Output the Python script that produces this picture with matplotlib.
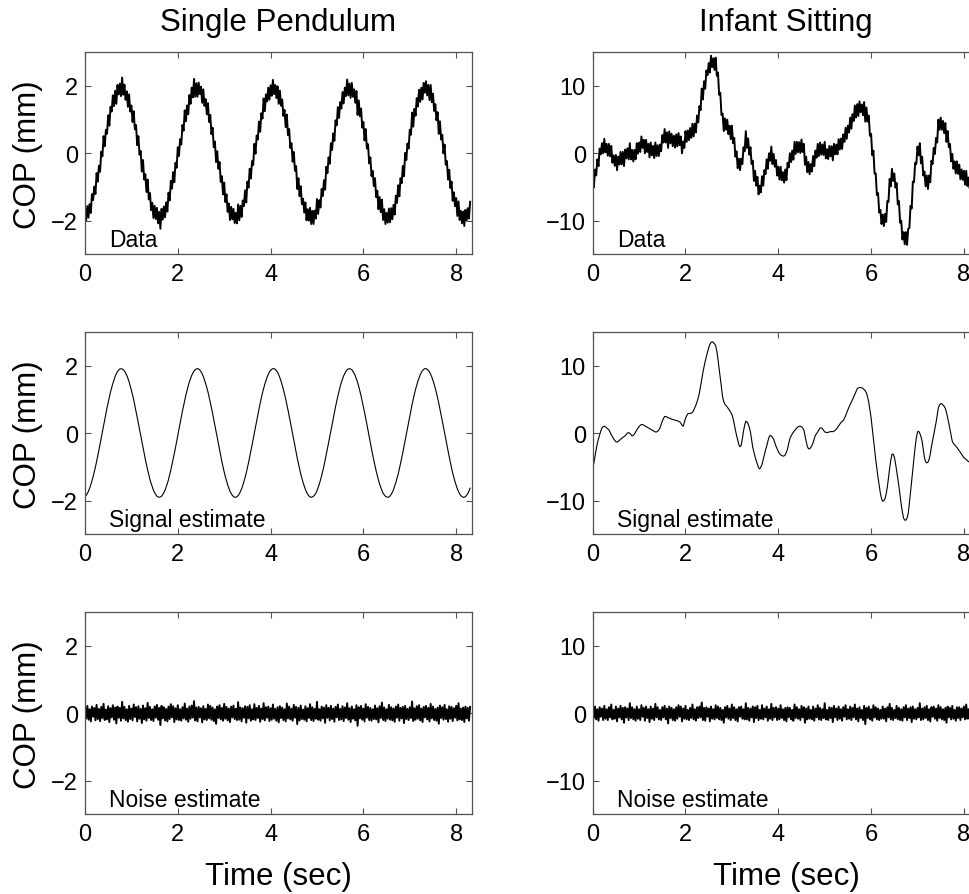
import numpy as np
import matplotlib
matplotlib.use("Agg")
import matplotlib.pyplot as plt

plt.rcParams['font.family'] = ['Liberation Sans', 'DejaVu Sans']

# sample spacing of the traces (sec)
dt = 0.025

# single pendulum: signal estimate (mm)
pendulum_signal = [
    -1.88, -1.84, -1.79, -1.72, -1.63, -1.53, -1.41, -1.29, -1.15, -1.00,
    -0.84, -0.67, -0.50, -0.32, -0.14, 0.05, 0.23, 0.41, 0.59, 0.76,
    0.92, 1.08, 1.23, 1.36, 1.48, 1.59, 1.69, 1.77, 1.83, 1.88,
    1.91, 1.92, 1.91, 1.89, 1.85, 1.79, 1.72, 1.63, 1.53, 1.41,
    1.28, 1.14, 0.99, 0.82, 0.66, 0.48, 0.30, 0.12, -0.06, -0.25,
    -0.43, -0.60, -0.77, -0.93, -1.09, -1.23, -1.37, -1.49, -1.59, -1.69,
    -1.76, -1.82, -1.87, -1.89, -1.90, -1.89, -1.87, -1.82, -1.76, -1.69,
    -1.59, -1.49, -1.37, -1.23, -1.09, -0.93, -0.77, -0.60, -0.43, -0.25,
    -0.06, 0.12, 0.30, 0.48, 0.66, 0.82, 0.99, 1.14, 1.28, 1.41,
    1.53, 1.63, 1.72, 1.79, 1.85, 1.89, 1.91, 1.92, 1.91, 1.88,
    1.83, 1.77, 1.69, 1.59, 1.48, 1.36, 1.23, 1.08, 0.92, 0.76,
    0.59, 0.41, 0.23, 0.05, -0.14, -0.32, -0.50, -0.67, -0.84, -1.00,
    -1.15, -1.29, -1.41, -1.53, -1.63, -1.72, -1.79, -1.84, -1.88, -1.90,
    -1.90, -1.88, -1.85, -1.80, -1.73, -1.65, -1.55, -1.44, -1.31, -1.18,
    -1.03, -0.87, -0.70, -0.53, -0.35, -0.17, 0.01, 0.19, 0.37, 0.55,
    0.72, 0.89, 1.05, 1.20, 1.33, 1.46, 1.57, 1.67, 1.75, 1.82,
    1.87, 1.90, 1.92, 1.92, 1.90, 1.86, 1.81, 1.74, 1.65, 1.55,
    1.43, 1.31, 1.17, 1.02, 0.86, 0.69, 0.52, 0.34, 0.16, -0.03,
    -0.21, -0.39, -0.57, -0.74, -0.90, -1.06, -1.21, -1.34, -1.46, -1.57,
    -1.67, -1.75, -1.81, -1.86, -1.89, -1.90, -1.89, -1.87, -1.83, -1.78,
    -1.70, -1.61, -1.51, -1.39, -1.26, -1.12, -0.97, -0.80, -0.64, -0.46,
    -0.28, -0.10, 0.08, 0.27, 0.45, 0.62, 0.79, 0.95, 1.11, 1.25,
    1.39, 1.51, 1.61, 1.71, 1.78, 1.84, 1.89, 1.91, 1.92, 1.91,
    1.89, 1.84, 1.78, 1.71, 1.61, 1.51, 1.39, 1.25, 1.11, 0.95,
    0.79, 0.62, 0.45, 0.27, 0.08, -0.10, -0.28, -0.46, -0.64, -0.80,
    -0.97, -1.12, -1.26, -1.39, -1.51, -1.61, -1.70, -1.78, -1.83, -1.87,
    -1.89, -1.90, -1.89, -1.86, -1.81, -1.75, -1.67, -1.57, -1.46, -1.34,
    -1.21, -1.06, -0.90, -0.74, -0.57, -0.39, -0.21, -0.03, 0.16, 0.34,
    0.52, 0.69, 0.86, 1.02, 1.17, 1.31, 1.43, 1.55, 1.65, 1.74,
    1.81, 1.86, 1.90, 1.92, 1.92, 1.90, 1.87, 1.82, 1.75, 1.67,
    1.57, 1.46, 1.33, 1.20, 1.05, 0.89, 0.72, 0.55, 0.37, 0.19,
    0.01, -0.17, -0.35, -0.53, -0.70, -0.87, -1.03, -1.18, -1.31, -1.44,
    -1.55, -1.65, -1.73, -1.80, -1.85, -1.88, -1.90, -1.90, -1.88, -1.84,
    -1.79, -1.72, -1.63,
]

# single pendulum: noise estimate (mm)
pendulum_noise = [
    0.18, -0.15, 0.22, -0.19, 0.12, -0.24, 0.20, -0.10, 0.16, -0.21,
    0.25, -0.17, 0.13, -0.23, 0.19, -0.14, 0.28, -0.20, 0.11, -0.18,
    0.21, -0.26, 0.15, -0.12, 0.24, -0.19, 0.17, -0.30, 0.20, -0.13,
    0.16, -0.22, 0.34, -0.15, 0.19, -0.20, 0.12, -0.25, 0.22, -0.17,
    0.14, -0.21, 0.26, -0.11, 0.18, -0.24, 0.21, -0.16, 0.13, -0.29,
    0.23, -0.18, 0.15, -0.22, 0.31, -0.14, 0.19, -0.20, 0.12, -0.23,
    0.20, -0.13, 0.25, -0.19, 0.16, -0.35, 0.22, -0.15, 0.18, -0.21,
    0.13, -0.24, 0.20, -0.17, 0.27, -0.12, 0.21, -0.26, 0.15, -0.18,
    0.24, -0.20, 0.12, -0.22, 0.18, -0.15, 0.29, -0.19, 0.14, -0.25,
    0.20, -0.16, 0.23, -0.13, 0.36, -0.21, 0.17, -0.24, 0.19, -0.12,
    0.15, -0.27, 0.21, -0.18, 0.13, -0.20, 0.26, -0.15, 0.22, -0.19,
    0.17, -0.23, 0.12, -0.31, 0.20, -0.14, 0.24, -0.18, 0.16, -0.22,
    0.28, -0.16, 0.19, -0.21, 0.14, -0.26, 0.20, -0.12, 0.23, -0.17,
    0.13, -0.20, 0.33, -0.19, 0.17, -0.24, 0.15, -0.13, 0.21, -0.28,
    0.19, -0.15, 0.24, -0.22, 0.12, -0.18, 0.27, -0.20, 0.16, -0.14,
    0.22, -0.25, 0.14, -0.17, 0.30, -0.21, 0.18, -0.13, 0.20, -0.23,
    0.15, -0.19, 0.26, -0.16, 0.13, -0.22, 0.18, -0.27, 0.21, -0.14,
    0.17, -0.20, 0.12, -0.24, 0.29, -0.15, 0.20, -0.18, 0.14, -0.22,
    0.25, -0.13, 0.19, -0.32, 0.16, -0.21, 0.23, -0.17, 0.11, -0.19,
    0.21, -0.24, 0.15, -0.14, 0.27, -0.20, 0.18, -0.23, 0.13, -0.16,
    0.34, -0.19, 0.12, -0.22, 0.20, -0.15, 0.17, -0.28, 0.24, -0.13,
    0.16, -0.21, 0.22, -0.17, 0.14, -0.25, 0.19, -0.12, 0.26, -0.20,
    0.13, -0.18, 0.21, -0.23, 0.17, -0.14, 0.30, -0.19, 0.15, -0.26,
    0.20, -0.16, 0.12, -0.21, 0.24, -0.37, 0.18, -0.15, 0.22, -0.19,
    0.14, -0.24, 0.27, -0.13, 0.19, -0.20, 0.16, -0.22, 0.12, -0.17,
    0.23, -0.18, 0.15, -0.27, 0.21, -0.14, 0.32, -0.20, 0.17, -0.23,
    0.12, -0.16, 0.25, -0.19, 0.18, -0.21, 0.14, -0.25, 0.20, -0.13,
    0.26, -0.22, 0.16, -0.15, 0.19, -0.29, 0.22, -0.17, 0.13, -0.20,
    0.18, -0.14, 0.35, -0.23, 0.15, -0.19, 0.21, -0.16, 0.24, -0.21,
    0.14, -0.26, 0.19, -0.12, 0.22, -0.18, 0.16, -0.24, 0.28, -0.15,
    0.20, -0.20, 0.13, -0.22, 0.17, -0.31, 0.23, -0.14, 0.18, -0.19,
    0.25, -0.17, 0.12, -0.25, 0.21, -0.16, 0.19, -0.23, 0.15, -0.13,
    0.22, -0.21, 0.30, -0.18, 0.14, -0.20, 0.17, -0.26, 0.20, -0.15,
    0.16, -0.22, 0.19,
]

# infant sitting: signal estimate (mm)
infant_signal = [
    -5.4, -4.4, -3.4, -2.4, -1.5, -0.8, -0.2, 0.35, 0.8, 1.0,
    1.05, 0.95, 0.8, 0.65, 0.5, 0.15, -0.2, -0.5, -0.8, -1.05,
    -1.25, -1.3, -1.2, -1.05, -0.9, -0.75, -0.6, -0.5, -0.35, -0.15,
    0.05, 0.1, 0.0, -0.2, -0.4, -0.3, -0.1, 0.2, 0.5, 0.75,
    1.0, 1.2, 1.3, 1.3, 1.2, 1.1, 1.0, 0.9, 0.8, 0.7,
    0.6, 0.5, 0.4, 0.3, 0.2, 0.2, 0.3, 0.5, 0.8, 1.3,
    1.8, 2.2, 2.5, 2.5, 2.4, 2.3, 2.25, 2.2, 2.1, 2.05,
    2.0, 1.95, 1.9, 1.85, 1.8, 1.7, 1.5, 1.2, 1.05, 1.6,
    2.2, 2.6, 2.9, 2.95, 2.95, 3.0, 3.1, 3.4, 3.8, 4.2,
    4.7, 5.3, 6.0, 7.0, 8.0, 9.0, 9.9, 10.7, 11.4, 12.1,
    12.7, 13.2, 13.5, 13.6, 13.5, 13.3, 13.0, 12.2, 11.0, 9.6,
    8.2, 6.7, 5.4, 4.7, 4.3, 4.1, 3.9, 3.65, 3.4, 3.1,
    2.8, 2.2, 1.4, 0.5, -0.3, -1.0, -1.7, -2.0, -1.8, -0.8,
    0.3, 1.2, 1.8, 1.7, 1.4, 0.9, 0.2, -1.0, -2.1, -2.8,
    -3.5, -4.1, -4.6, -5.1, -5.3, -5.0, -4.6, -3.9, -3.2, -2.5,
    -1.9, -1.2, -0.6, -0.3, -0.4, -0.6, -0.9, -1.4, -1.9, -2.3,
    -2.7, -3.0, -3.2, -3.3, -3.4, -3.35, -3.2, -2.8, -2.3, -1.5,
    -0.8, -0.4, -0.1, 0.15, 0.4, 0.6, 0.8, 0.95, 1.05, 1.05,
    0.95, 0.8, 0.5, -0.3, -1.2, -1.9, -2.3, -2.3, -2.1, -1.8,
    -1.4, -0.8, -0.3, -0.05, 0.2, 0.5, 0.8, 0.8, 0.7, 0.45,
    0.2, 0.15, 0.1, 0.15, 0.2, 0.25, 0.25, 0.25, 0.3, 0.45,
    0.6, 0.85, 1.1, 1.35, 1.6, 1.75, 1.9, 2.2, 2.6, 3.05,
    3.5, 3.9, 4.3, 4.65, 5.0, 5.4, 5.8, 6.2, 6.6, 6.75,
    6.8, 6.8, 6.75, 6.65, 6.5, 6.3, 6.0, 5.4, 4.6, 3.5,
    2.3, 0.8, -0.8, -2.4, -3.9, -5.3, -6.6, -7.8, -8.9, -9.7,
    -10.1, -10.0, -9.7, -9.0, -8.0, -6.6, -5.2, -4.0, -3.1, -3.1,
    -3.5, -4.4, -5.5, -6.7, -7.9, -9.3, -10.6, -11.7, -12.6, -12.9,
    -12.9, -12.6, -11.9, -10.4, -8.7, -6.9, -5.2, -3.5, -2.0, -0.7,
    0.2, 0.3, 0.0, -0.5, -1.2, -2.4, -3.6, -4.2, -4.4, -4.3,
    -3.9, -3.1, -2.0, -1.1, -0.2, 0.7, 1.6, 2.7, 3.8, 4.2,
    4.4, 4.4, 4.2, 4.0, 3.7, 3.1, 2.3, 1.5, 0.6, -0.3,
    -1.2, -1.5, -1.7, -1.9, -2.1, -2.35, -2.6, -2.85, -3.1, -3.35,
    -3.6, -3.75, -3.9, -4.05, -4.2, -4.3, -4.35, -4.4, -4.4, -4.4,
    -4.4, -4.4, -4.4,
]

# infant sitting: noise estimate (mm)
infant_noise = [
    0.8, -0.7, 1.0, -0.9, 0.6, -1.1, 0.9, -0.5, 0.7, -1.0,
    1.1, -0.8, 0.6, -1.0, 0.9, -0.6, 1.3, -0.9, 0.5, -0.8,
    1.0, -1.2, 0.7, -0.6, 1.1, -0.9, 0.8, -1.4, 0.9, -0.6,
    0.7, -1.0, 1.5, -0.7, 0.9, -0.9, 0.6, -1.1, 1.0, -0.8,
    0.6, -1.0, 1.2, -0.5, 0.8, -1.1, 1.0, -0.7, 0.6, -1.3,
    1.0, -0.8, 0.7, -1.0, 1.4, -0.6, 0.9, -0.9, 0.5, -1.0,
    0.9, -0.6, 1.1, -0.9, 0.7, -1.5, 1.0, -0.7, 0.8, -1.0,
    0.6, -1.1, 0.9, -0.8, 1.2, -0.5, 1.0, -1.2, 0.7, -0.8,
    1.1, -0.9, 0.5, -1.0, 0.8, -0.7, 1.3, -0.9, 0.6, -1.1,
    0.9, -0.7, 1.0, -0.6, 1.6, -1.0, 0.8, -1.1, 0.9, -0.5,
    0.7, -1.2, 1.0, -0.8, 0.6, -0.9, 1.2, -0.7, 1.0, -0.9,
    0.8, -1.0, 0.5, -1.4, 0.9, -0.6, 1.1, -0.8, 0.7, -1.0,
    1.3, -0.7, 0.9, -1.0, 0.6, -1.2, 0.9, -0.5, 1.0, -0.8,
    0.6, -0.9, 1.5, -0.9, 0.8, -1.1, 0.7, -0.6, 1.0, -1.3,
    0.9, -0.7, 1.1, -1.0, 0.5, -0.8, 1.2, -0.9, 0.7, -0.6,
    1.0, -1.1, 0.6, -0.8, 1.4, -1.0, 0.8, -0.6, 0.9, -1.0,
    0.7, -0.9, 1.2, -0.7, 0.6, -1.0, 0.8, -1.2, 0.9, -0.6,
    0.8, -0.9, 0.5, -1.1, 1.3, -0.7, 0.9, -0.8, 0.6, -1.0,
    1.1, -0.6, 0.9, -1.4, 0.7, -0.9, 1.0, -0.8, 0.5, -0.9,
    1.0, -1.1, 0.7, -0.6, 1.2, -0.9, 0.8, -1.0, 0.6, -0.7,
    1.5, -0.9, 0.5, -1.0, 0.9, -0.7, 0.8, -1.3, 1.1, -0.6,
    0.7, -1.0, 1.0, -0.8, 0.6, -1.1, 0.9, -0.5, 1.2, -0.9,
    0.6, -0.8, 1.0, -1.0, 0.8, -0.6, 1.3, -0.9, 0.7, -1.2,
    0.9, -0.7, 0.5, -1.0, 1.1, -1.6, 0.8, -0.7, 1.0, -0.9,
    0.6, -1.1, 1.2, -0.6, 0.9, -0.9, 0.7, -1.0, 0.5, -0.8,
    1.0, -0.8, 0.7, -1.2, 0.9, -0.6, 1.4, -0.9, 0.8, -1.0,
    0.5, -0.7, 1.1, -0.9, 0.8, -1.0, 0.6, -1.1, 0.9, -0.6,
    1.2, -1.0, 0.7, -0.7, 0.9, -1.3, 1.0, -0.8, 0.6, -0.9,
    0.8, -0.6, 1.5, -1.0, 0.7, -0.9, 0.9, -0.7, 1.1, -1.0,
    0.6, -1.2, 0.9, -0.5, 1.0, -0.8, 0.7, -1.1, 1.2, -0.7,
    0.9, -0.9, 0.6, -1.0, 0.8, -1.4, 1.0, -0.6, 0.8, -0.9,
    1.1, -0.8, 0.5, -1.1, 0.9, -0.7, 0.9, -1.0, 0.7, -0.6,
    1.0, -0.9, 1.3, -0.8, 0.6, -0.9, 0.8, -1.2, 0.9, -0.7,
    0.7, -1.0, 0.8,
]

col_titles = ["Single Pendulum", "Infant Sitting"]
row_labels = ["Data", "Signal estimate", "Noise estimate"]
xticks = [0, 2, 4, 6, 8]
yticks_list = [[-2, 0, 2], [-10, 0, 10]]
ylims = [(-3, 3), (-15, 15)]

columns = []
for sig, noise in [(pendulum_signal, pendulum_noise), (infant_signal, infant_noise)]:
    sig = np.array(sig)
    noise = np.array(noise)
    columns.append([sig + noise, sig, noise])

t = np.arange(len(pendulum_signal)) * dt

W, H = 970, 895
fig = plt.figure(figsize=(W / 100, H / 100), dpi=100)

spine_col = "#505050"
col_x = [85, 592.7]
ax_w = 386.5
row_top = [53.3, 333.3, 613.3]
ax_h = 202.0

for c in range(2):
    for r in range(3):
        left = col_x[c] / W
        bottom = 1 - (row_top[r] + ax_h) / H
        ax = fig.add_axes([left, bottom, ax_w / W, ax_h / H])
        y = columns[c][r]
        ax.plot(t, y, color="black", lw=0.8 if r == 1 else 1.4)
        ax.set_xlim(0, 8.33)
        ax.set_ylim(*ylims[c])
        ax.set_xticks(xticks)
        ax.set_yticks(yticks_list[c])
        ax.tick_params(direction="in", top=True, right=True, length=4,
                       width=0.8, color=spine_col, labelsize=17, pad=6)
        ax.tick_params(axis="y", pad=5)
        for s in ax.spines.values():
            s.set_color(spine_col)
            s.set_linewidth(0.9)
        ax.text(0.062, 0.04, row_labels[r], transform=ax.transAxes,
                fontsize=16.5, ha="left", va="baseline")
        if c == 0:
            fig.text(28 / W, 1 - (row_top[r] + ax_h / 2) / H, "COP (mm)",
                     rotation=90, ha="center", va="center", fontsize=22.5)
    cx = (col_x[c] + ax_w / 2) / W
    fig.text(cx, 1 - 23 / H, col_titles[c], ha="center", va="center", fontsize=22.5)
    fig.text(cx, 1 - 877 / H, "Time (sec)", ha="center", va="center", fontsize=22.5)

fig.savefig("out.png", dpi=100)
